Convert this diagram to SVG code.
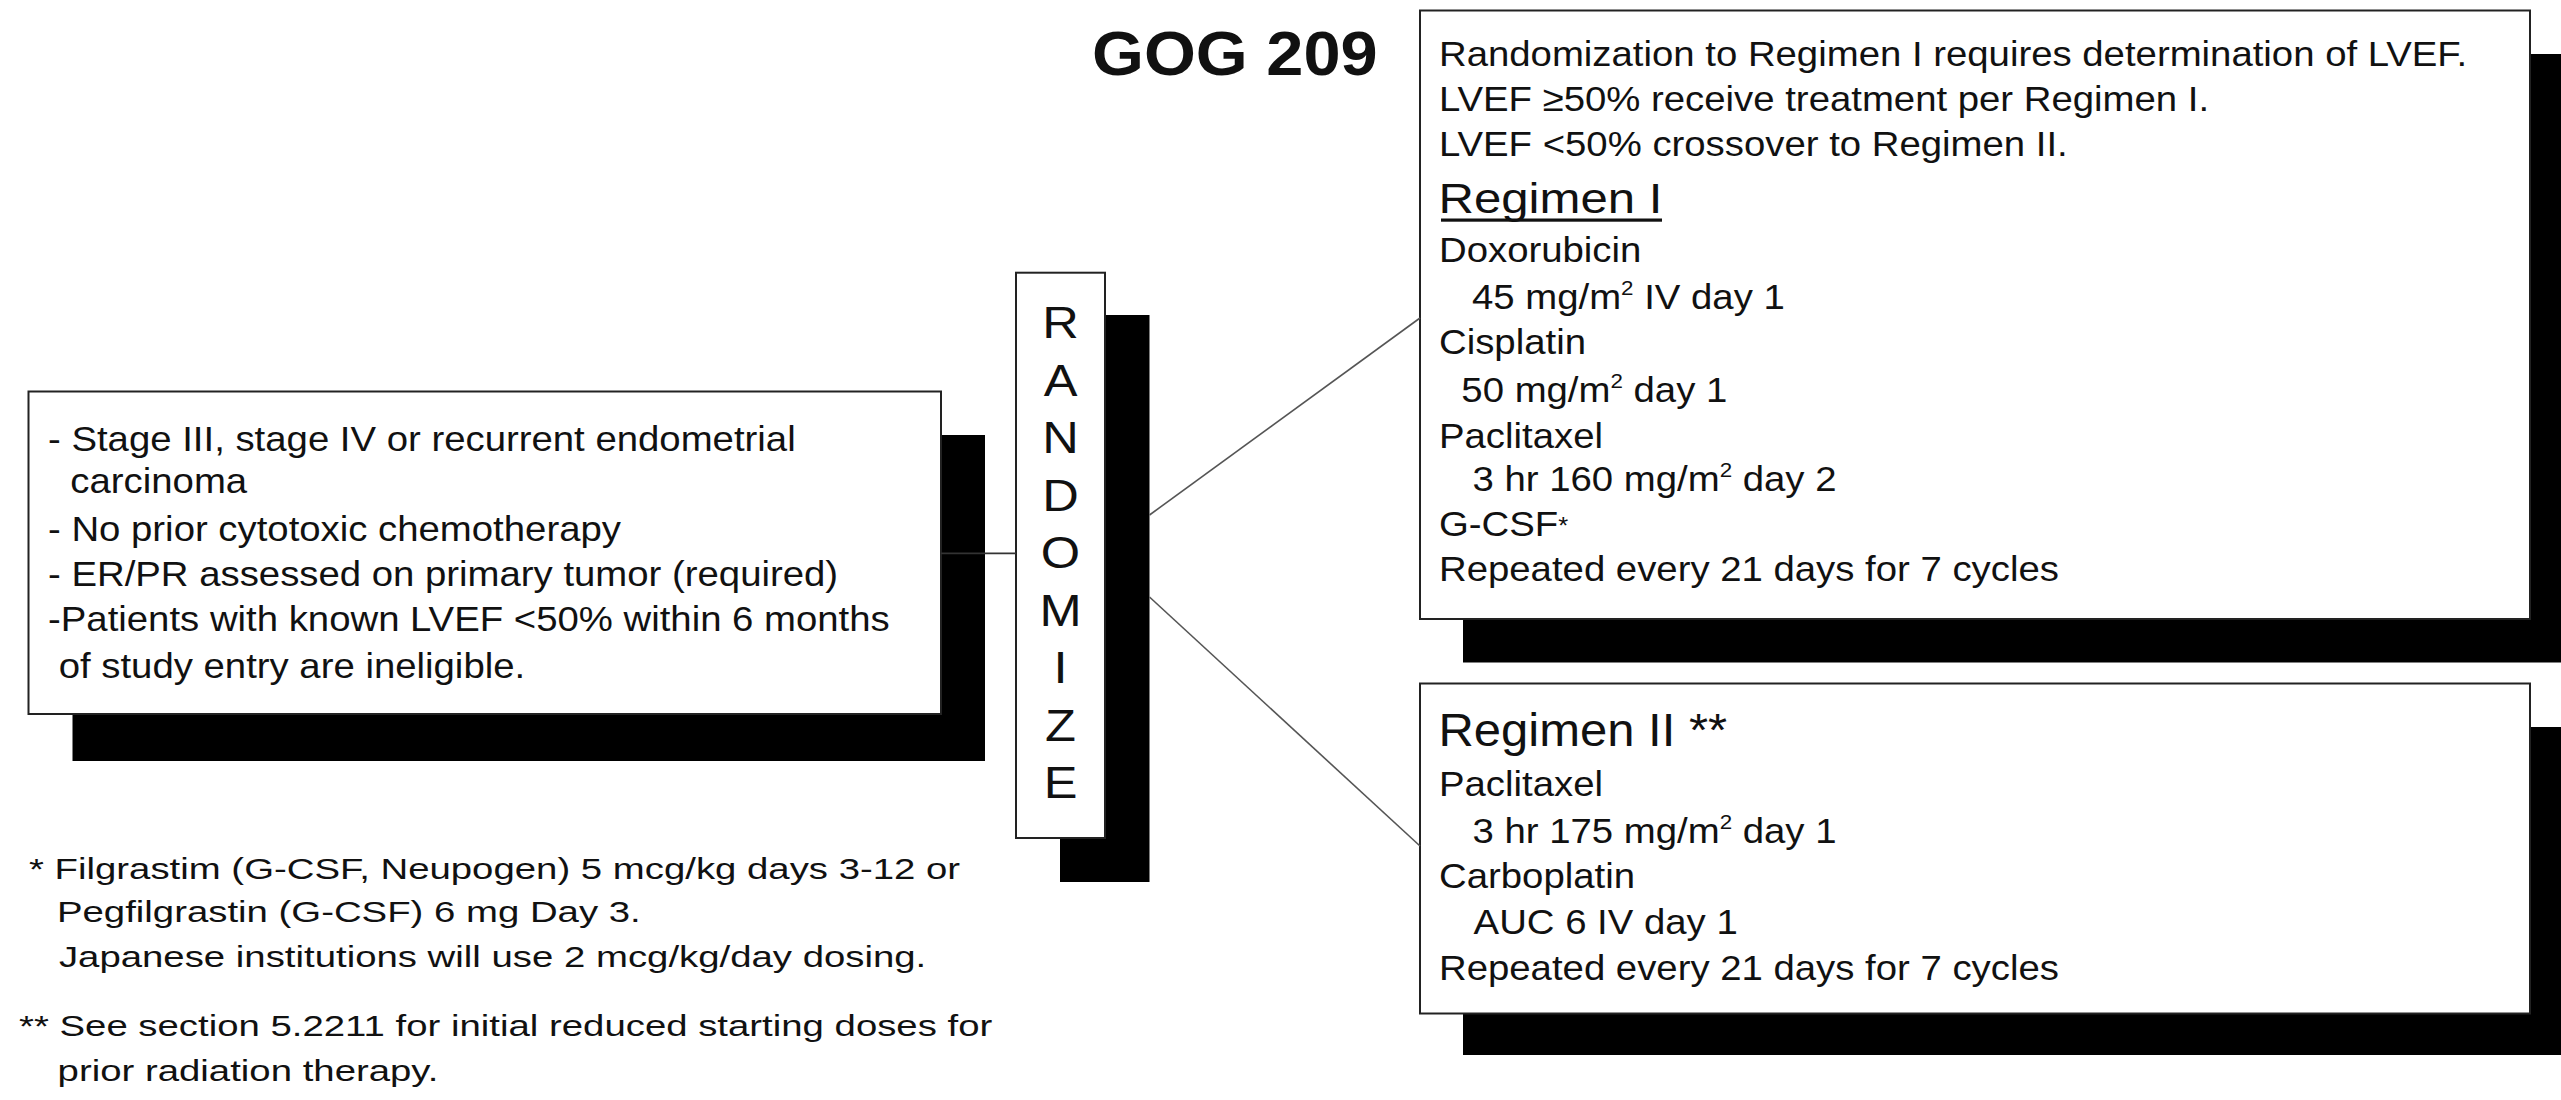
<svg xmlns="http://www.w3.org/2000/svg" width="2561" height="1100" viewBox="0 0 2561 1100">
<style>
.bg{fill:#fff}
.box{fill:#fff;stroke:#222;stroke-width:2}
.shadow{fill:#000}
.t{font-family:"Liberation Sans",Arial,sans-serif;fill:#111}
.b36{font-size:36px}
.fn{font-size:29.5px}
.sup{font-size:21px}
.conn{stroke:#333;stroke-width:1.8;fill:none}
.diag{stroke:#555;stroke-width:1.6;fill:none}
</style>
<rect class="bg" x="0" y="0" width="2561" height="1100"/>

<g id="title">
  <text class="t" x="0" y="75" font-size="63" font-weight="bold" transform="translate(1092 0) scale(1.06 1)">GOG 209</text>
</g>

<g id="node-eligibility">
  <rect class="shadow" x="72.5" y="435" width="912.5" height="326"/>
  <rect class="box" x="28.5" y="391.5" width="912.5" height="322.5"/>
  <g class="t b36" transform="translate(48 0) scale(1.065 1)">
    <text x="0" y="451">- Stage III, stage IV or recurrent endometrial</text>
    <text x="21" y="493.5">carcinoma</text>
    <text x="0" y="541.5">- No prior cytotoxic chemotherapy</text>
    <text x="0" y="586.5">- ER/PR assessed on primary tumor (required)</text>
    <text x="0" y="631">-Patients with known LVEF &lt;50% within 6 months</text>
    <text x="10" y="678.5">of study entry are ineligible.</text>
  </g>
</g>

<g id="node-randomize">
  <rect class="shadow" x="1060" y="315" width="89.5" height="567"/>
  <rect class="box" x="1016" y="272.7" width="89" height="565.3"/>
  <g class="t" font-size="44" text-anchor="middle" transform="translate(1060.5 0) scale(1.15 1)">
    <text x="0" y="338.5">R</text>
    <text x="0" y="396">A</text>
    <text x="0" y="453.5">N</text>
    <text x="0" y="511">D</text>
    <text x="0" y="568.5">O</text>
    <text x="0" y="626">M</text>
    <text x="0" y="683.5">I</text>
    <text x="0" y="741">Z</text>
    <text x="0" y="798.5">E</text>
  </g>
</g>

<g id="node-regimen1">
  <rect class="shadow" x="1463" y="54" width="1110" height="608.5"/>
  <rect class="box" x="1420" y="10.5" width="1110" height="608.5"/>
  <g class="t b36" transform="translate(1439 0) scale(1.065 1)">
    <text x="0" y="66">Randomization to Regimen I requires determination of LVEF.</text>
    <text x="0" y="111">LVEF ≥50% receive treatment per Regimen I.</text>
    <text x="0" y="156.5">LVEF &lt;50% crossover to Regimen II.</text>
    <text x="0" y="262.5">Doxorubicin</text>
    <text x="31" y="309">45 mg/m<tspan class="sup" dy="-14">2</tspan><tspan dy="14"> IV day 1</tspan></text>
    <text x="0" y="354.5">Cisplatin</text>
    <text x="21" y="402.5">50 mg/m<tspan class="sup" dy="-14">2</tspan><tspan dy="14"> day 1</tspan></text>
    <text x="0" y="448">Paclitaxel</text>
    <text x="31.5" y="491.5">3 hr 160 mg/m<tspan class="sup" dy="-14">2</tspan><tspan dy="14"> day 2</tspan></text>
    <text x="0" y="536">G-CSF<tspan font-size="24" dy="-2">*</tspan></text>
    <text x="0" y="581.5">Repeated every 21 days for 7 cycles</text>
  </g>
  <text class="t" x="0" y="213" font-size="42" transform="translate(1438.5 0) scale(1.17 1)">Regimen I</text>
  <rect x="1441" y="218.5" width="221" height="3.2" fill="#111"/>
</g>

<g id="node-regimen2">
  <rect class="shadow" x="1463" y="727" width="1110" height="328"/>
  <rect class="box" x="1420" y="683.5" width="1110" height="330"/>
  <text class="t" x="0" y="746.5" font-size="46" transform="translate(1438.5 0) scale(1.065 1)">Regimen II **</text>
  <g class="t b36" transform="translate(1439 0) scale(1.065 1)">
    <text x="0" y="796.5">Paclitaxel</text>
    <text x="31.5" y="843">3 hr 175 mg/m<tspan class="sup" dy="-14">2</tspan><tspan dy="14"> day 1</tspan></text>
    <text x="0" y="888">Carboplatin</text>
    <text x="32.5" y="934">AUC 6 IV day 1</text>
    <text x="0" y="980">Repeated every 21 days for 7 cycles</text>
  </g>
</g>

<g id="connectors">
  <line class="conn" x1="941" y1="553.3" x2="1016" y2="553.3"/>
  <line class="diag" x1="1149.5" y1="515" x2="1420" y2="318"/>
  <line class="diag" x1="1149.5" y1="597" x2="1420" y2="846"/>
</g>

<g id="footnotes" class="t fn" transform="translate(29 0) scale(1.3 1)">
  <text x="0" y="879.5">* Filgrastim (G-CSF, Neupogen) 5 mcg/kg days 3-12 or</text>
  <text x="21.5" y="922">Pegfilgrastin (G-CSF) 6 mg Day 3.</text>
  <text x="23" y="967">Japanese institutions will use 2 mcg/kg/day dosing.</text>
  <text x="-7.7" y="1036.5">** See section 5.2211 for initial reduced starting doses for</text>
  <text x="22" y="1081.5">prior radiation therapy.</text>
</g>
</svg>
